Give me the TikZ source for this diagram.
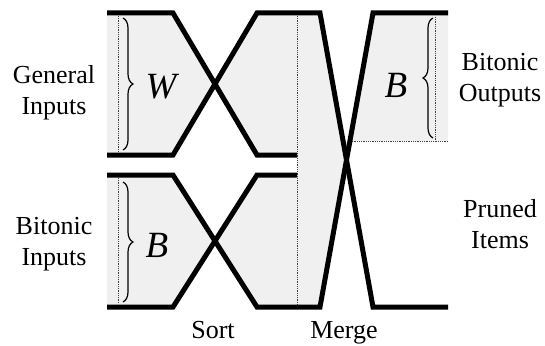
\documentclass[tikz,border=0pt]{standalone}
\usepackage{fontspec}
\setmainfont{Liberation Serif}
\usetikzlibrary{decorations.pathreplacing}
\definecolor{panel}{RGB}{240,240,240}
\begin{document}
\begin{tikzpicture}[x=1pt,y=-1pt,
  wire/.style={line width=5pt, line join=miter},
  guide/.style={line width=0.8pt, densely dotted, black!75},
  curly/.style={decorate, decoration={brace, amplitude=10pt}, line width=1.2pt},
  lbl/.style={font=\rmfamily\fontsize{26}{30}\selectfont, anchor=base, inner sep=0pt},
  var/.style={font=\rmfamily\fontsize{37}{40}\selectfont\itshape, inner sep=0pt}]
\useasboundingbox (0,0) rectangle (545,345);

% key points
\coordinate (uTL) at (107,13);  \coordinate (uBL) at (107,155);
\coordinate (uX)  at (215,84);
\coordinate (lTL) at (107,175); \coordinate (lBL) at (107,307);
\coordinate (lX)  at (215,241);
\coordinate (mX)  at (346.5,160);

% shaded panels
\fill[panel] (uTL) -- (173,13) -- (uX) -- (173,155) -- (uBL) -- cycle;
\fill[panel] (uX) -- (257,13) -- (308,13) -- (308,155) -- (257,155) -- cycle;
\fill[panel] (lTL) -- (173,175) -- (lX) -- (173,307) -- (lBL) -- cycle;
\fill[panel] (lX) -- (257,175) -- (308,175) -- (308,307) -- (257,307) -- cycle;
\fill[panel] (297,13) -- (320,13) -- (mX) -- (320,307) -- (297,307) -- cycle;
\fill[panel] (373,13) -- (448,13) -- (448,141) -- (350,141) -- cycle;

% dotted guides
\draw[guide] (118,16) -- (118,152);
\draw[guide] (118,178) -- (118,304);
\draw[guide] (297,16) -- (297,305);
\draw[guide] (435,17) -- (435,141);
\draw[guide] (350,141) -- (448,141);

% wires
\draw[wire] (uTL) -- (173,13) -- (257,155) -- (297,155);
\draw[wire] (uBL) -- (173,155) -- (257,13) -- (320,13) -- (373,307) -- (448,307);
\draw[wire] (lTL) -- (173,175) -- (257,307) -- (320,307) -- (373,13) -- (448,13);
\draw[wire] (lBL) -- (173,307) -- (257,175) -- (297,175);

% braces
\draw[curly] (123,18) -- (123,150);
\draw[curly] (123,182) -- (123,302);
\draw[curly] (433,138) -- (433,18);

% variables
\node[var] (w)  at (161,87)  {W};
\node[var] (b1) at (157,245) {B};
\node[var] (b2) at (396,85)  {B};

% labels
\node[lbl] (gen1)  at (54,83)   {General};
\node[lbl] (gen2)  at (54,114)  {Inputs};
\node[lbl] (bin1)  at (54,234)  {Bitonic};
\node[lbl] (bin2)  at (54,265)  {Inputs};
\node[lbl] (bout1) at (500,70)  {Bitonic};
\node[lbl] (bout2) at (500,101) {Outputs};
\node[lbl] (pr1)   at (500,217) {Pruned};
\node[lbl] (pr2)   at (500,248) {Items};
\node[lbl] (sort)  at (213,338) {Sort};
\node[lbl] (merge) at (344,338) {Merge};
\end{tikzpicture}
\end{document}
